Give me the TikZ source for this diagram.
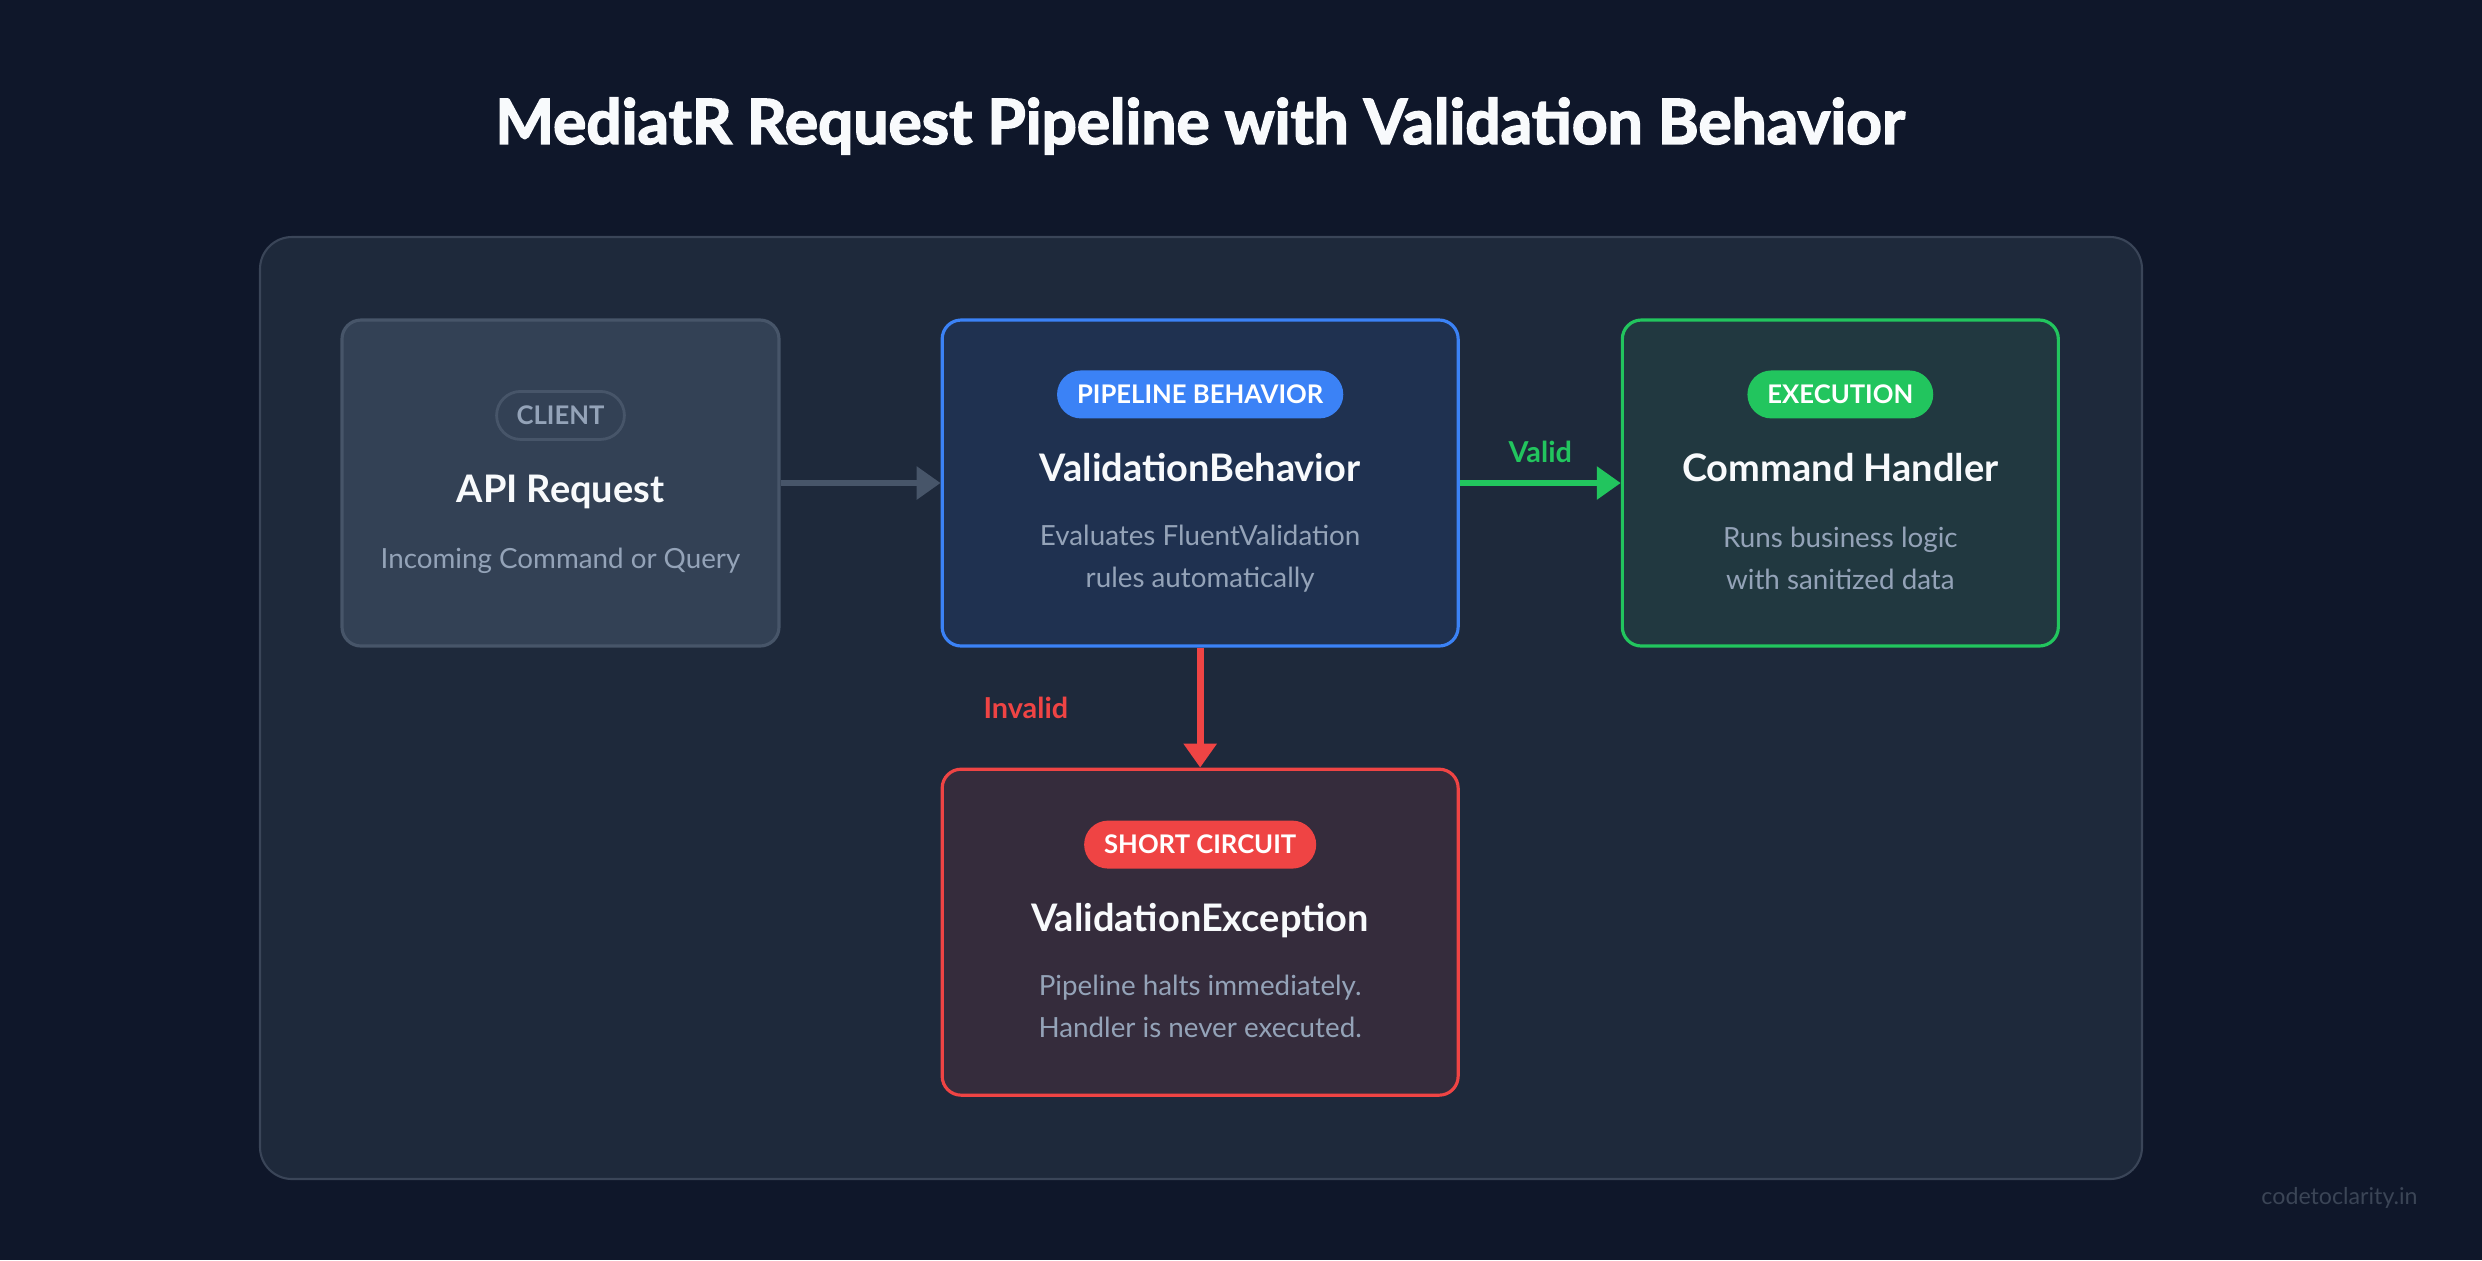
\documentclass[tikz,border=0pt]{standalone}
\usepackage{fontspec}
\setmainfont{Lato}
\newfontfamily\titlefont{Lato}[BoldFeatures={FakeBold=2.5}]
\usepackage{tikz}
\usetikzlibrary{positioning, arrows.meta}

\definecolor{bgdark}{HTML}{0F172A}
\definecolor{panelfill}{HTML}{1E293B}
\definecolor{panelline}{HTML}{3A4558}
\definecolor{clientfill}{HTML}{334155}
\definecolor{clientline}{HTML}{475569}
\definecolor{arrowgray}{HTML}{475569}
\definecolor{validfill}{HTML}{1F3150}
\definecolor{validblue}{HTML}{3B82F6}
\definecolor{handlerfill}{HTML}{213840}
\definecolor{handlergreen}{HTML}{22C55E}
\definecolor{exceptfill}{HTML}{352C3C}
\definecolor{exceptred}{HTML}{EF4444}
\definecolor{titlewhite}{HTML}{F8FAFC}
\definecolor{descgray}{HTML}{94A3B8}
\definecolor{markgray}{HTML}{3B4556}

\begin{document}
\begin{tikzpicture}[
    node distance=1.60cm,
    card/.style={draw, line width=0.9pt, rounded corners=0.19cm, minimum height=3.26cm, minimum width=#1},
    card/.default=5.16cm,
    pill/.style={rounded corners=0.24cm, minimum height=0.48cm, inner xsep=0.2cm, inner ysep=0pt, font=\fontsize{7.3}{8}\selectfont\bfseries, text=white},
    heading/.style={font=\fontsize{10.8}{12}\selectfont\bfseries, text=titlewhite},
    desc/.style={align=center, font=\fontsize{7.9}{11.8}\selectfont, text=descgray},
    arrow/.style={-{Triangle[length=0.24cm, width=0.32cm]}, line width=1.9pt},
    flowlabel/.style={font=\fontsize{8.2}{9}\selectfont\bfseries},
]
\fill[bgdark] (0,0) rectangle (24.82,-12.60);
\node[font=\titlefont\fontsize{17.7}{20}\selectfont\bfseries, text=titlewhite] (title) at (12.00,-1.26) {MediatR Request Pipeline with Validation Behavior};
\node[draw=panelline, fill=panelfill, rounded corners=0.32cm, line width=0.6pt, minimum width=18.82cm, minimum height=9.42cm] (panel) at (12.01,-7.08) {};

% cards
\node[card=4.37cm, fill=clientfill, draw=clientline] (client) at (5.605,-4.83) {};
\node[card, fill=validfill, draw=validblue, right=1.60cm of client] (valid) {};
\node[card=4.36cm, fill=handlerfill, draw=handlergreen, right=1.61cm of valid] (handler) {};
\node[card, fill=exceptfill, draw=exceptred, below=1.20cm of valid] (except) {};

% card contents
\node[pill, draw=clientline, fill=clientfill, line width=0.8pt, text=descgray] (clienttag) at ([yshift=-0.97cm]client.north) {CLIENT};
\node[heading] (clientname) at ([yshift=-1.74cm]client.north) {API Request};
\node[desc] (clientdesc) at ([yshift=-2.42cm]client.north) {Incoming Command or Query};

\node[pill, fill=validblue] (validtag) at ([yshift=-0.76cm]valid.north) {PIPELINE BEHAVIOR};
\node[heading] (validname) at ([yshift=-1.49cm]valid.north) {ValidationBehavior};
\node[desc] (validdesc) at ([yshift=-2.40cm]valid.north) {Evaluates FluentValidation\\rules automatically};

\node[pill, fill=handlergreen] (handlertag) at ([yshift=-0.76cm]handler.north) {EXECUTION};
\node[heading] (handlername) at ([yshift=-1.49cm]handler.north) {Command Handler};
\node[desc] (handlerdesc) at ([yshift=-2.40cm]handler.north) {Runs business logic\\with sanitized data};

\node[pill, fill=exceptred] (excepttag) at ([yshift=-0.77cm]except.north) {SHORT CIRCUIT};
\node[heading] (exceptname) at ([yshift=-1.53cm]except.north) {ValidationException};
\node[desc] (exceptdesc) at ([yshift=-2.39cm]except.north) {Pipeline halts immediately.\\Handler is never executed.};

% connectors
\draw[arrow, arrowgray] (client) -- (valid);
\draw[arrow, handlergreen] (valid) -- node[above=0.05cm, flowlabel, text=handlergreen] {Valid} (handler);
\draw[arrow, exceptred] (valid) -- node[left=1.17cm, flowlabel, text=exceptred] {Invalid} (except);

\node[anchor=east, font=\fontsize{6.6}{7}\selectfont, text=markgray] (mark) at (24.30,-11.98) {codetoclarity.in};
\end{tikzpicture}
\end{document}
